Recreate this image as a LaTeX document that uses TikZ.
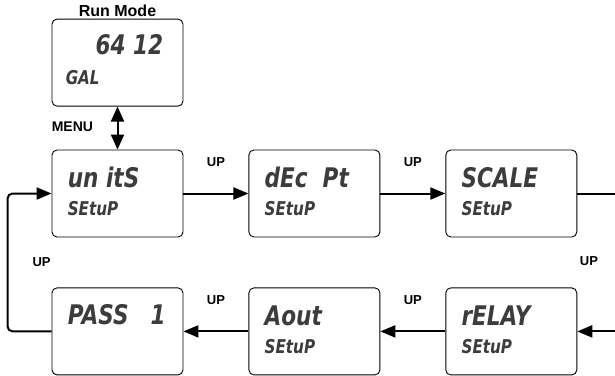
\documentclass[tikz,border=0pt]{standalone}
\usepackage{fontspec}
\setmainfont{Liberation Sans}
\newfontfamily\lcdfont{DejaVu Sans}[FakeStretch=0.8]
\usetikzlibrary{arrows.meta,positioning}
\definecolor{lcdgray}{RGB}{60,60,60}

\begin{document}
\begin{tikzpicture}[x=1pt, y=-1pt, node distance=65pt]
    \tikzset{
      lcdbox/.style={rectangle,rounded corners=5pt,draw=black,line width=0.9pt,minimum width=131pt,minimum height=87pt,inner sep=0pt},
      lcdbig/.style={anchor=base west,inner sep=0pt,text=lcdgray,font=\lcdfont\bfseries\itshape\fontsize{27}{30}\selectfont},
      lcdsmall/.style={lcdbig,font=\lcdfont\bfseries\itshape\fontsize{19}{22}\selectfont},
      uplabel/.style={inner sep=0pt,font=\bfseries\fontsize{13}{15}\selectfont},
      arrow/.style={-{Triangle[length=15pt,width=12pt]},line width=2pt},
      dblarrow/.style={{Triangle[length=15pt,width=13pt]}-{Triangle[length=15pt,width=13pt]},line width=2pt}
    }
    \useasboundingbox (0,0) rectangle (615,375);

    % displays
    \node[lcdbox] (units) at (117.5,193.5) {};
    \node[lcdbox,above=43pt of units] (run) {};
    \node[lcdbox,right=of units] (decpt) {};
    \node[lcdbox,right=of decpt] (scale) {};
    \node[lcdbox,below=50pt of units] (pass) {};
    \node[lcdbox,right=of pass] (aout) {};
    \node[lcdbox,right=of aout] (relay) {};

    % display texts
    \node[lcdbig,anchor=base east] (run-a) at ([shift={(-20pt,-36pt)}]run.north east) {64 12};
    \node[lcdsmall] (run-b) at ([shift={(14pt,-66pt)}]run.north west) {GAL};
    \node[lcdbig] (units-a) at ([shift={(16pt,-38pt)}]units.north west) {un itS};
    \node[lcdbig] (decpt-a) at ([shift={(16pt,-38pt)}]decpt.north west) {dEc~~Pt};
    \node[lcdbig] (scale-a) at ([shift={(16pt,-38pt)}]scale.north west) {SCALE};
    \node[lcdbig] (pass-a) at ([shift={(16pt,-37pt)}]pass.north west) {PASS\hspace{22pt}1};
    \node[lcdbig] (aout-a) at ([shift={(16pt,-38pt)}]aout.north west) {Aout};
    \node[lcdbig] (relay-a) at ([shift={(16pt,-38pt)}]relay.north west) {rELAY};
    \foreach \n in {units,decpt,scale,aout,relay}
      \node[lcdsmall] (\n-b) at ([shift={(16pt,-66pt)}]\n.north west) {SEtuP};

    % titles
    \node[inner sep=0pt,font=\bfseries\fontsize{16}{18}\selectfont,above=2pt of run] (runmode) {Run Mode};
    \node[inner sep=0pt,anchor=base west,font=\bfseries\fontsize{14}{16}\selectfont] (menu) at ([yshift=-25pt]run.south west) {MENU};

    % connectors
    \coordinate (rtop) at ([xshift=60pt]scale.east);
    \coordinate (rbot) at ([xshift=60pt]relay.east);
    \draw[dblarrow] (run) -- (units);
    \draw[arrow] (units) -- node[uplabel,above=26pt] (up1) {UP} (decpt);
    \draw[arrow] (decpt) -- node[uplabel,above=26pt] (up2) {UP} (scale);
    \draw[line width=2pt] (scale) -- (rtop);
    \draw[arrow] (rbot) -- (relay);
    \draw[arrow] (relay) -- node[uplabel,above=26pt] (up4) {UP} (aout);
    \draw[arrow] (aout) -- node[uplabel,above=26pt] (up5) {UP} (pass);
    \draw[arrow,rounded corners=5pt] (pass.west) -- ++(-44pt,0) |- node[pos=0.25,uplabel,right=24pt] (up6) {UP} (units.west);
    \node[uplabel,anchor=base] (up3) at (589,265) {UP};
\end{tikzpicture}
\end{document}
